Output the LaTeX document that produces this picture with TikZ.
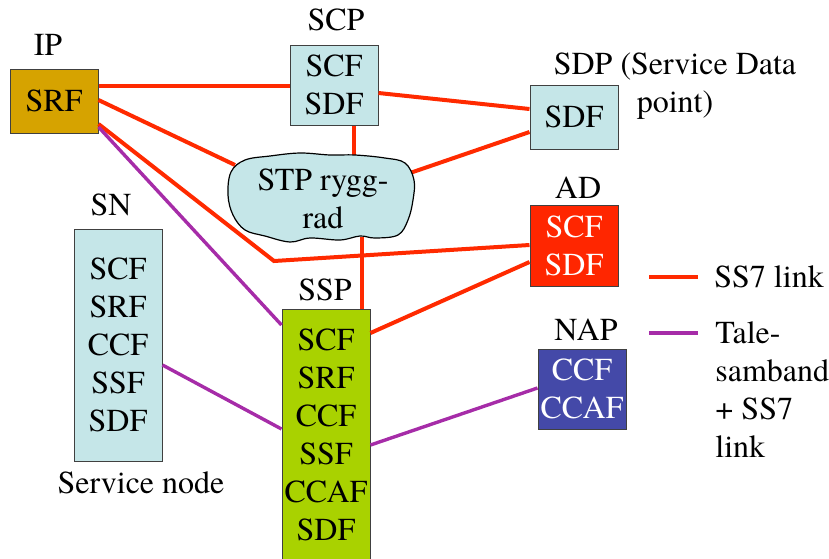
\documentclass[tikz,border=0pt]{standalone}
\usepackage{fontspec}
\newfontfamily\tms{texgyretermes-regular.otf}
\definecolor{ipgold}{HTML}{D6A300}
\definecolor{lightcyan}{HTML}{C5E6E8}
\definecolor{adred}{HTML}{FF2600}
\definecolor{napblue}{HTML}{4449A8}
\definecolor{sspgreen}{HTML}{A9D200}
\definecolor{linkred}{HTML}{FF2A00}
\definecolor{linkpurple}{HTML}{A62CA8}
\tikzset{
  every node/.style={inner sep=0pt},
  box/.style={draw=black!75, line width=0.5pt, minimum width=44pt, align=center},
  lbl/.style={align=center},
  ss7/.style={draw=linkred, line width=2pt},
  tale/.style={draw=linkpurple, line width=1.7pt},
}
\begin{document}
\tms\fontsize{16}{19}\selectfont
\begin{tikzpicture}[x=0.5pt,y=-0.5pt]
\useasboundingbox (0,0) rectangle (829,558);
% boxes
\node[box, fill=ipgold, minimum height=32pt] (ip) at (54,101) {SRF};
\node[box, fill=lightcyan, minimum height=40pt] (scp) at (334,85) {SCF\\SDF};
\node[box, fill=lightcyan, minimum height=32pt] (sdp) at (574,117) {SDF};
\node[box, fill=adred, text=white, minimum height=40.5pt] (ad) at (574,245.5) {SCF\\SDF};
\node[box, fill=napblue, text=white, minimum height=40pt] (nap) at (582,389) {CCF\\CCAF};
\node[box, fill=lightcyan, minimum height=116pt] (sn) at (118,345) {SCF\\SRF\\CCF\\SSF\\SDF};
\node[box, fill=sspgreen, minimum height=126pt] (ssp) at (326,435) {SCF\\SRF\\CCF\\SSF\\CCAF\\SDF};
% cloud anchor points
\coordinate (stpL) at (235,165);
\coordinate (stpT) at (354,156);
\coordinate (stpR) at (410,173);
\coordinate (stpB) at (362,237);
\coordinate (bend) at (274,261);
% connectors
\draw[ss7] (ip.east |- 0,86) -- (scp.west |- 0,86);
\draw[ss7] (ip.east |- 0,100) -- (stpL);
\draw[ss7] (ip.east |- 0,124) -- (bend) -- (ad.west |- 0,245);
\draw[ss7] (scp.south -| 354,0) -- (stpT);
\draw[ss7] (scp.east |- 0,93) -- (sdp.west |- 0,109);
\draw[ss7] (stpR) -- (sdp.west |- 0,132);
\draw[ss7] (stpB) -- (ssp.north -| 362,0);
\draw[ss7] (ssp.east |- 0,333) -- (ad.west |- 0,262);
\draw[tale] (ip.east |- 0,127) -- (ssp.west |- 0,325);
\draw[tale] (sn.east |- 0,365) -- (ssp.west |- 0,429);
\draw[tale] (ssp.east |- 0,445) -- (nap.west |- 0,388);
% cloud
\draw[black, line width=0.6pt, fill=lightcyan] plot[smooth cycle, tension=0.6] coordinates {
 (228,195) (231,172) (245,160) (270,156) (300,153) (330,155) (355,155) (385,158)
 (405,163) (414,180) (413,200) (408,220) (398,235) (375,238) (360,236) (340,240)
 (310,238) (290,242) (265,236) (245,230) (233,215)};
\node[lbl] (stp) at (323,199) {STP rygg-\\rad};
% labels
\node (iplbl) at (48,45) {IP};
\node (scplbl) at (336,20) {SCP};
\node[lbl] (sdplbl) at (675,86) {SDP (Service Data\\point)};
\node (adlbl) at (578,188) {AD};
\node (naplbl) at (586,330) {NAP};
\node (snlbl) at (111,205) {SN};
\node (ssplbl) at (325,290) {SSP};
\node (snname) at (141,483) {Service node};
% legend
\coordinate (lgA1) at (649,277);
\coordinate (lgA2) at (698,277);
\coordinate (lgB1) at (649,333);
\coordinate (lgB2) at (698,333);
\node[anchor=west] (lgAtxt) at (714,277) {SS7 link};
\node[anchor=west, align=left] (lgBtxt) at (715,390) {Tale-\\samband\\+ SS7\\link};
\draw[ss7] (lgA1) -- (lgA2);
\draw[tale] (lgB1) -- (lgB2);
\end{tikzpicture}
\end{document}
